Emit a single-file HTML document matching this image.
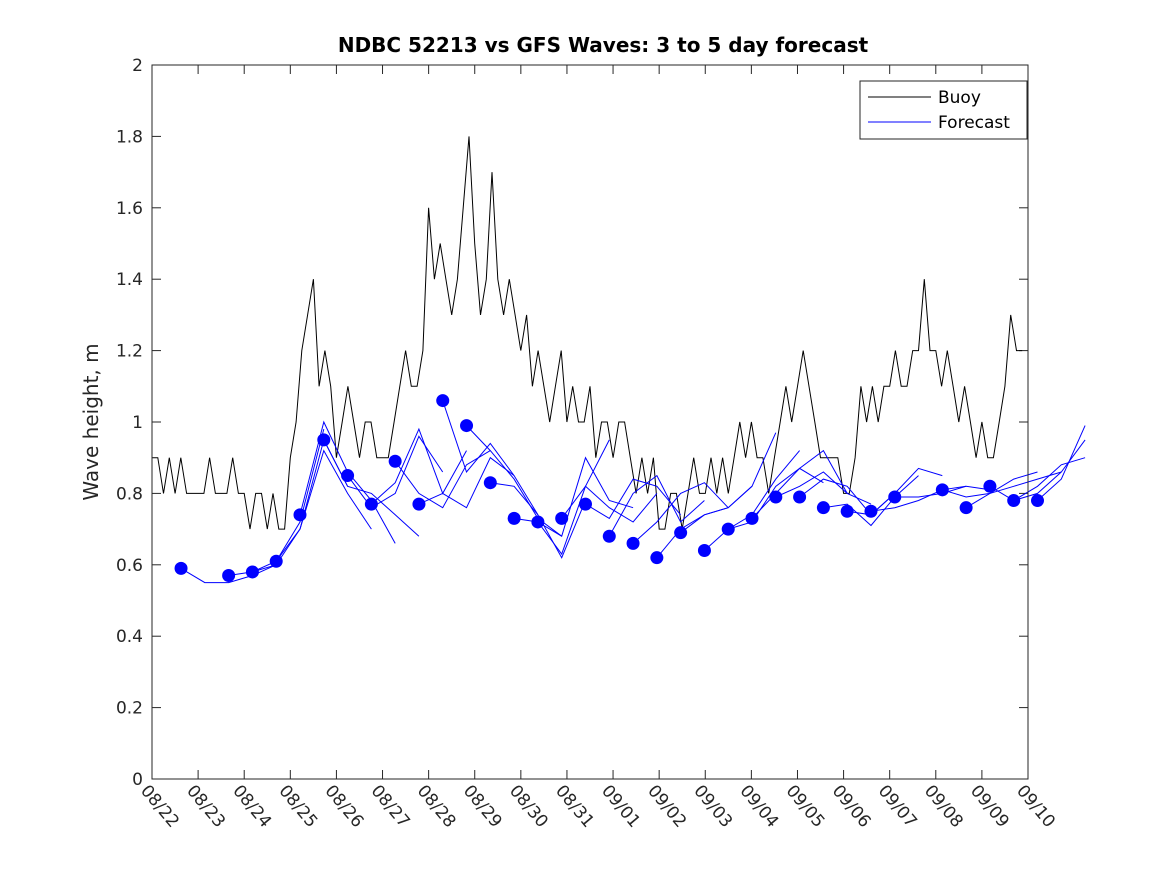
<!DOCTYPE html>
<html><head><meta charset="utf-8"><style>
html,body{margin:0;padding:0;background:#fff;}
svg{display:block;font-family:"DejaVu Sans","Liberation Sans",sans-serif;}
</style></head><body>
<svg id="chart" width="1167" height="875" viewBox="0 0 1167 875" xmlns="http://www.w3.org/2000/svg">
<rect x="0" y="0" width="1167" height="875" fill="#fff"/>
<text x="603" y="52" text-anchor="middle" font-size="20" font-weight="bold" fill="#000">NDBC 52213 vs GFS Waves: 3 to 5 day forecast</text>
<text x="0" y="0" transform="translate(98,422) rotate(-90)" text-anchor="middle" font-size="20" fill="#262626">Wave height, m</text>
<g id="grid"></g>
<g id="series"></g>
<rect x="152" y="65" width="876" height="714" fill="none" stroke="#262626" stroke-width="1"/>
<g>
<rect x="860" y="81" width="167" height="58" fill="#fff" stroke="#262626" stroke-width="1"/>
<line x1="868" y1="97" x2="931" y2="97" stroke="#000"/>
<text x="938" y="103" font-size="17" fill="#000">Buoy</text>
<line x1="868" y1="122" x2="931" y2="122" stroke="#00f"/>
<text x="938" y="128" font-size="17" fill="#000">Forecast</text>
</g>
</svg>
<script>
const xTickLabels=["08/22","08/23","08/24","08/25","08/26","08/27","08/28","08/29","08/30","08/31","09/01","09/02","09/03","09/04","09/05","09/06","09/07","09/08","09/09","09/10"];
const yTickLabels=["0","0.2","0.4","0.6","0.8","1","1.2","1.4","1.6","1.8","2"];
// buoy: 3-hourly values starting 08/22 00:00
const buoy=[0.9,0.9,0.8,0.9,0.8,0.9,0.8,0.8,
0.8,0.8,0.9,0.8,0.8,0.8,0.9,0.8,
0.8,0.7,0.8,0.8,0.7,0.8,0.7,0.7,
0.9,1.0,1.2,1.3,1.4,1.1,1.2,1.1,
0.9,1.0,1.1,1.0,0.9,1.0,1.0,0.9,
0.9,0.9,1.0,1.1,1.2,1.1,1.1,1.2,
1.6,1.4,1.5,1.4,1.3,1.4,1.6,1.8,
1.5,1.3,1.4,1.7,1.4,1.3,1.4,1.3,
1.2,1.3,1.1,1.2,1.1,1.0,1.1,1.2,
1.0,1.1,1.0,1.0,1.1,0.9,1.0,1.0,
0.9,1.0,1.0,0.9,0.8,0.9,0.8,0.9,
0.7,0.7,0.8,0.8,0.7,0.8,0.9,0.8,
0.8,0.9,0.8,0.9,0.8,0.9,1.0,0.9,
1.0,0.9,0.9,0.8,0.9,1.0,1.1,1.0,
1.1,1.2,1.1,1.0,0.9,0.9,0.9,0.9,
0.8,0.8,0.9,1.1,1.0,1.1,1.0,1.1,
1.1,1.2,1.1,1.1,1.2,1.2,1.4,1.2,
1.2,1.1,1.2,1.1,1.0,1.1,1.0,0.9,
1.0,0.9,0.9,1.0,1.1,1.3,1.2,1.2];
// forecast cycles: start index (12h-ish steps from day 0.63), values every step (first = dot)
const fcStart=[0,2,3,4,5,6,7,8,9,10,11,12,13,14,15,16,17,18,19,20,21,22,23,24,25,26,27,28,29,30,32,33,34,35,36];
const fcValues=[
[0.59,0.55,0.55,0.57,0.6],
[0.57,0.58,0.61,0.72,0.98],
[0.58,0.6,0.7,0.95,0.82],
[0.61,0.7,0.92,0.8,0.7],
[0.74,1.0,0.86,0.78,0.66],
[0.95,0.82,0.8,0.74,0.68],
[0.85,0.76,0.8,0.96,0.86],
[0.77,0.83,0.98,0.8,0.92],
[0.89,0.8,0.76,0.88,0.92],
[0.77,0.8,0.76,0.9,0.85],
[1.06,0.86,0.94,0.85,0.74],
[0.99,0.92,0.84,0.73,0.68],
[0.83,0.82,0.74,0.62,0.78],
[0.73,0.72,0.63,0.82,0.95],
[0.72,0.68,0.9,0.78,0.76],
[0.73,0.82,0.76,0.72,0.8],
[0.77,0.73,0.84,0.82,0.74],
[0.68,0.8,0.85,0.72,0.78],
[0.66,0.72,0.8,0.83,0.76],
[0.62,0.7,0.74,0.76,0.82],
[0.69,0.74,0.76,0.82,0.97],
[0.64,0.7,0.74,0.84,0.92],
[0.7,0.72,0.82,0.87,0.83],
[0.73,0.8,0.87,0.92,0.8],
[0.79,0.82,0.86,0.8,0.77],
[0.79,0.84,0.82,0.74,0.8],
[0.76,0.77,0.71,0.79,0.85],
[0.75,0.74,0.8,0.87,0.85],
[0.75,0.76,0.78,0.81,0.82],
[0.79,0.79,0.8,0.82,0.81],
[0.81,0.79,0.8,0.84,0.86],
[0.76,0.8,0.82,0.84,0.86],
[0.82,0.78,0.82,0.88,0.9],
[0.78,0.8,0.86,0.95],
[0.78,0.84,0.99]];
const NS="http://www.w3.org/2000/svg";
const X0=152,X1=1028,Y0=779,Y1=65,NDAYS=19,STEP=0.516;
function xScale(d){return X0+(X1-X0)*d/NDAYS;}
function yScale(v){return Y0-(Y0-Y1)*v/2;}
const grid=document.getElementById('grid'),series=document.getElementById('series');
function mk(tag,attrs,parent){const e=document.createElementNS(NS,tag);for(const k in attrs)e.setAttribute(k,attrs[k]);parent.appendChild(e);return e;}
xTickLabels.forEach((lab,i)=>{
  const x=xScale(i);
  const t1=mk('line',{x1:x,y1:Y0,x2:x,y2:Y0-9,stroke:'#262626'},grid);
  
  
  const t2=mk('line',{x1:x,y1:Y1,x2:x,y2:Y1+9,stroke:'#262626'},grid);
  
  
  const tx=mk('text',{x:0,y:0,transform:`translate(${x-12},${Y0+12}) rotate(50)`,'font-size':'17',fill:'#262626'},grid);
  tx.textContent=lab;
  
  
});
yTickLabels.forEach((lab,i)=>{
  const y=yScale(parseFloat(lab));
  const t1=mk('line',{x1:X0,y1:y,x2:X0+9,y2:y,stroke:'#262626'},grid);
  
  
  const t2=mk('line',{x1:X1,y1:y,x2:X1-9,y2:y,stroke:'#262626'},grid);
  
  
  const tx=mk('text',{x:X0-9,y:y+6,'text-anchor':'end','font-size':'17',fill:'#262626'},grid);
  tx.textContent=lab;
  
  
});
// buoy
const bp=buoy.map((v,i)=>xScale(i/8).toFixed(1)+','+yScale(v).toFixed(1)).join(' ');
const bl=mk('polyline',{points:bp,fill:'none',stroke:'#000','stroke-width':'1'},series);


// forecasts
fcValues.forEach((vals,j)=>{
  const s=fcStart[j];
  const pts=vals.map((v,i)=>xScale(0.63+(s+i)*STEP).toFixed(1)+','+yScale(v).toFixed(1)).join(' ');
  const pl=mk('polyline',{points:pts,fill:'none',stroke:'#00f','stroke-width':'1'},series);
  
  
});
fcValues.forEach((vals,j)=>{
  const s=fcStart[j];
  const c=mk('circle',{cx:xScale(0.63+s*STEP),cy:yScale(vals[0]),r:6.5,fill:'#00f'},series);
  
  
});
</script>
</body></html>
